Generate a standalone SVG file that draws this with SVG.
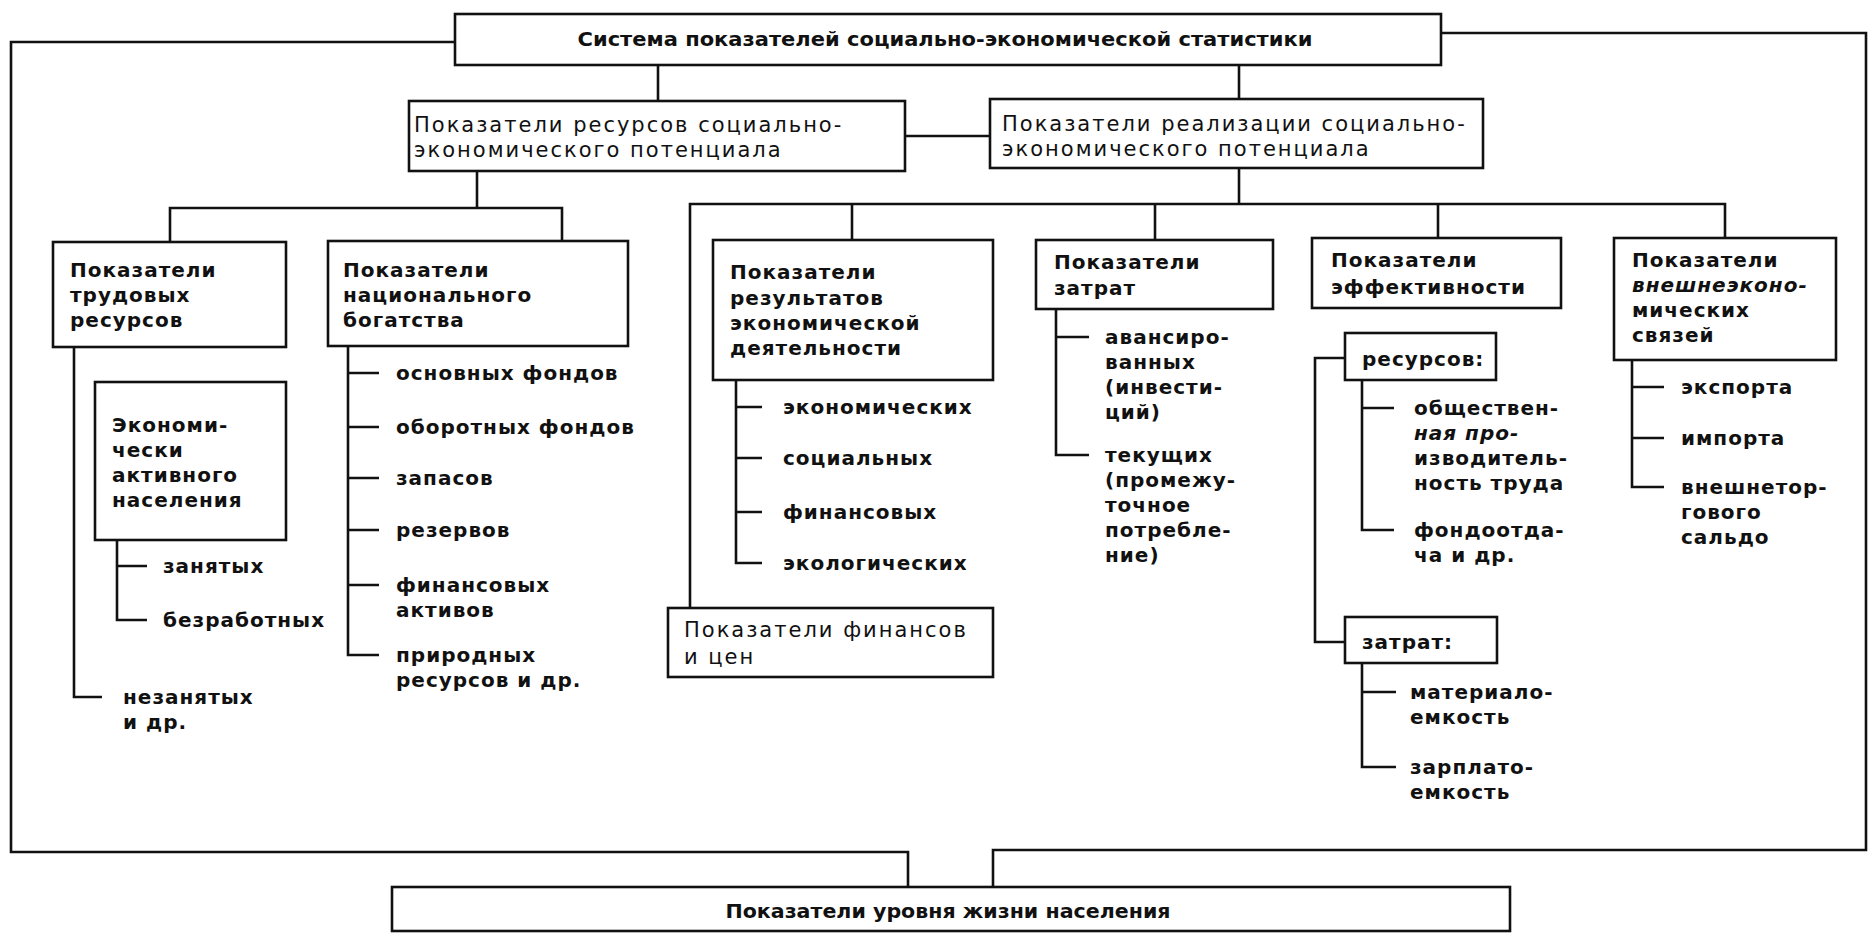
<svg xmlns="http://www.w3.org/2000/svg" width="1870" height="933" viewBox="0 0 1870 933">
<style>
  .box{fill:#fff;stroke:#111;stroke-width:2.6}
  .ln{fill:none;stroke:#111;stroke-width:2.6}
  text{font-family:"DejaVu Sans","Liberation Sans",sans-serif;font-size:20px;fill:#111}
  .b{font-weight:bold;letter-spacing:1px}
  .r{font-weight:normal;font-size:21px;letter-spacing:2px}
  .t{font-weight:bold;letter-spacing:0}
  .i{font-style:italic}
  .c{text-anchor:middle}
</style>
<rect width="1870" height="933" fill="#fff"/>
<g id="connectors">
  <path class="ln" d="M455,42 H11 V852 H908 V887"/>
  <path class="ln" d="M1441,33 H1866 V850 H993 V887"/>
  <path class="ln" d="M658,65 V101"/>
  <path class="ln" d="M1239,65 V99"/>
  <path class="ln" d="M905,136 H990"/>
  <path class="ln" d="M477,171 V208"/>
  <path class="ln" d="M170,242 V208 H562 V241"/>
  <path class="ln" d="M1239,168 V204"/>
  <path class="ln" d="M690,608 V204 H1725 V238"/>
  <path class="ln" d="M852,204 V240"/>
  <path class="ln" d="M1155,204 V240"/>
  <path class="ln" d="M1438,204 V238"/>
  <path class="ln" d="M74,347 V697 H102"/>
  <path class="ln" d="M117,540 V620 H147 M117,566 H147"/>
  <path class="ln" d="M348,346 V655 H379 M348,373 H379 M348,427 H379 M348,478 H379 M348,530 H379 M348,585 H379"/>
  <path class="ln" d="M736,380 V563 H762 M736,407 H762 M736,458 H762 M736,512 H762"/>
  <path class="ln" d="M1056,309 V455 H1089 M1056,337 H1089"/>
  <path class="ln" d="M1345,358 H1315 V642 H1345"/>
  <path class="ln" d="M1362,380 V530 H1394 M1362,408 H1394"/>
  <path class="ln" d="M1362,663 V767 H1396 M1362,692 H1396"/>
  <path class="ln" d="M1632,360 V487 H1664 M1632,387 H1664 M1632,438 H1664"/>
</g>
<g id="n-system">
  <rect class="box" x="455" y="14" width="986" height="51"/>
  <text class="t c" x="945" y="46" textLength="735" lengthAdjust="spacingAndGlyphs">Система показателей социально-экономической статистики</text>
</g>
<g id="n-resources">
  <rect class="box" x="409" y="101" width="496" height="70"/>
  <text class="r" x="414" y="132">Показатели ресурсов социально-</text>
  <text class="r" x="414" y="157">экономического потенциала</text>
</g>
<g id="n-realization">
  <rect class="box" x="990" y="99" width="493" height="69"/>
  <text class="r" x="1002" y="131">Показатели реализации социально-</text>
  <text class="r" x="1002" y="156">экономического потенциала</text>
</g>
<g id="n-labour">
  <rect class="box" x="53" y="242" width="233" height="105"/>
  <text class="b" x="70" y="277">Показатели</text>
  <text class="b" x="70" y="302">трудовых</text>
  <text class="b" x="70" y="327">ресурсов</text>
</g>
<g id="n-active">
  <rect class="box" x="95" y="382" width="191" height="158"/>
  <text class="b" x="112" y="432">Экономи-</text>
  <text class="b" x="112" y="457">чески</text>
  <text class="b" x="112" y="482">активного</text>
  <text class="b" x="112" y="507">населения</text>
</g>
<g id="n-active-items">
  <text class="b" x="163" y="573">занятых</text>
  <text class="b" x="163" y="627">безработных</text>
  <text class="b" x="123" y="704">незанятых</text>
  <text class="b" x="123" y="729">и др.</text>
</g>
<g id="n-wealth">
  <rect class="box" x="328" y="241" width="300" height="105"/>
  <text class="b" x="343" y="277">Показатели</text>
  <text class="b" x="343" y="302">национального</text>
  <text class="b" x="343" y="327">богатства</text>
</g>
<g id="n-wealth-items">
  <text class="b" x="396" y="380">основных фондов</text>
  <text class="b" x="396" y="434">оборотных фондов</text>
  <text class="b" x="396" y="485">запасов</text>
  <text class="b" x="396" y="537">резервов</text>
  <text class="b" x="396" y="592">финансовых</text>
  <text class="b" x="396" y="617">активов</text>
  <text class="b" x="396" y="662">природных</text>
  <text class="b" x="396" y="687">ресурсов и др.</text>
</g>
<g id="n-results">
  <rect class="box" x="713" y="240" width="280" height="140"/>
  <text class="b" x="730" y="279">Показатели</text>
  <text class="b" x="730" y="305">результатов</text>
  <text class="b" x="730" y="330">экономической</text>
  <text class="b" x="730" y="355">деятельности</text>
</g>
<g id="n-results-items">
  <text class="b" x="783" y="414">экономических</text>
  <text class="b" x="783" y="465">социальных</text>
  <text class="b" x="783" y="519">финансовых</text>
  <text class="b" x="783" y="570">экологических</text>
</g>
<g id="n-finance">
  <rect class="box" x="668" y="608" width="325" height="69"/>
  <text class="r" x="684" y="637">Показатели финансов</text>
  <text class="r" x="684" y="664">и цен</text>
</g>
<g id="n-costs">
  <rect class="box" x="1036" y="240" width="237" height="69"/>
  <text class="b" x="1054" y="269">Показатели</text>
  <text class="b" x="1054" y="295">затрат</text>
</g>
<g id="n-costs-items">
  <text class="b" x="1105" y="344">авансиро-</text>
  <text class="b" x="1105" y="369">ванных</text>
  <text class="b" x="1105" y="394">(инвести-</text>
  <text class="b" x="1105" y="419">ций)</text>
  <text class="b" x="1105" y="462">текущих</text>
  <text class="b" x="1105" y="487">(промежу-</text>
  <text class="b" x="1105" y="512">точное</text>
  <text class="b" x="1105" y="537">потребле-</text>
  <text class="b" x="1105" y="562">ние)</text>
</g>
<g id="n-efficiency">
  <rect class="box" x="1312" y="238" width="249" height="70"/>
  <text class="b" x="1331" y="267">Показатели</text>
  <text class="b" x="1331" y="294">эффективности</text>
</g>
<g id="n-eff-resources">
  <rect class="box" x="1345" y="333" width="151" height="47"/>
  <text class="b" x="1362" y="366">ресурсов:</text>
</g>
<g id="n-eff-resources-items">
  <text class="b" x="1414" y="415">обществен-</text>
  <text class="b i" x="1414" y="440">ная про-</text>
  <text class="b" x="1414" y="465">изводитель-</text>
  <text class="b" x="1414" y="490">ность труда</text>
  <text class="b" x="1414" y="537">фондоотда-</text>
  <text class="b" x="1414" y="562">ча и др.</text>
</g>
<g id="n-eff-costs">
  <rect class="box" x="1345" y="617" width="152" height="46"/>
  <text class="b" x="1362" y="649">затрат:</text>
</g>
<g id="n-eff-costs-items">
  <text class="b" x="1410" y="699">материало-</text>
  <text class="b" x="1410" y="724">емкость</text>
  <text class="b" x="1410" y="774">зарплато-</text>
  <text class="b" x="1410" y="799">емкость</text>
</g>
<g id="n-foreign">
  <rect class="box" x="1614" y="238" width="222" height="122"/>
  <text class="b" x="1632" y="267">Показатели</text>
  <text class="b i" x="1632" y="292">внешнеэконо-</text>
  <text class="b" x="1632" y="317">мических</text>
  <text class="b" x="1632" y="342">связей</text>
</g>
<g id="n-foreign-items">
  <text class="b" x="1681" y="394">экспорта</text>
  <text class="b" x="1681" y="445">импорта</text>
  <text class="b" x="1681" y="494">внешнетор-</text>
  <text class="b" x="1681" y="519">гового</text>
  <text class="b" x="1681" y="544">сальдо</text>
</g>
<g id="n-living">
  <rect class="box" x="392" y="887" width="1118" height="44"/>
  <text class="t c" x="948" y="918" textLength="445" lengthAdjust="spacingAndGlyphs">Показатели уровня жизни населения</text>
</g>
</svg>
